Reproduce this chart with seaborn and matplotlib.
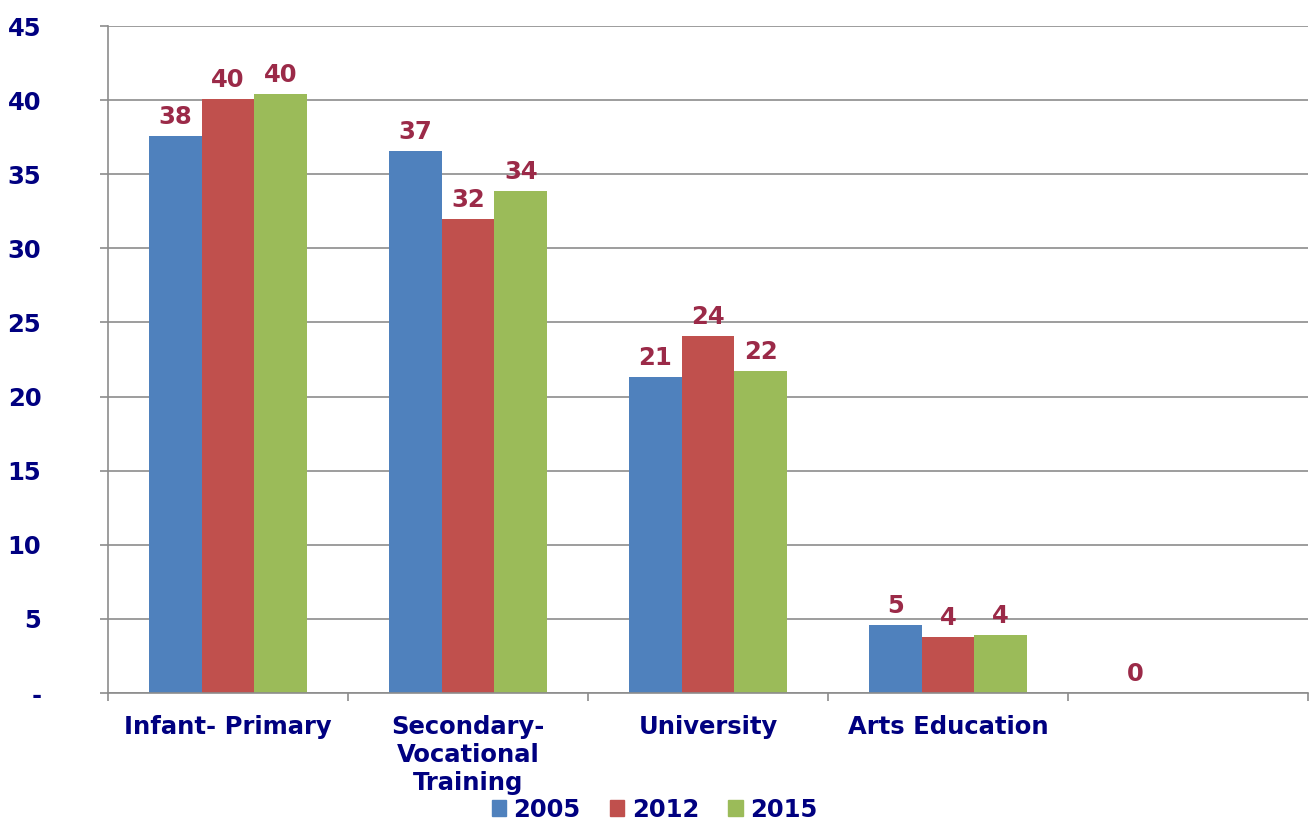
import pandas as pd
import matplotlib.pyplot as plt
import numpy as np
import seaborn as sns

categories = ['Infant- Primary', 'Secondary-\nVocational\nTraining', 'University', 'Arts Education', '']
years = ['2005', '2012', '2015']
v2005 = [37.6, 36.6, 21.3, 4.6, 0]
v2012 = [40.1, 32.0, 24.1, 3.8, np.nan]
v2015 = [40.4, 33.9, 21.7, 3.9, np.nan]
yticks = [0, 5, 10, 15, 20, 25, 30, 35, 40, 45]
ytick_labels = ['-', '5', '10', '15', '20', '25', '30', '35', '40', '45']

colors = ['#4F81BD', '#C0504D', '#9BBB59']
navy = '#000080'
label_color = '#9B2A48'
grid_color = '#8C8C8C'

df = pd.DataFrame({
    'category': categories * 3,
    'value': v2005 + v2012 + v2015,
    'year': [y for y in years for _ in categories],
})

sns.set_style('white')
plt.rcParams['font.family'] = ['DejaVu Sans']
plt.rcParams['font.weight'] = 'bold'

fig = plt.figure(figsize=(13.09, 8.23), dpi=100)
ax = fig.add_axes([108 / 1309, 1 - 693 / 823, 1200 / 1309, 667 / 823])

sns.barplot(data=df, x='category', y='value', hue='year', order=categories,
            hue_order=years, palette=colors, saturation=1, width=0.66,
            linewidth=0, ax=ax)

for c in ax.containers:
    ax.bar_label(c, fmt='%.0f', padding=5, color=label_color, fontsize=17.5, fontweight='bold')

ax.set_xlim(-0.5, 4.5)
ax.set_ylim(0, 45)
ax.set_yticks(yticks)
ax.set_yticklabels(ytick_labels)
ax.set_xlabel('')
ax.set_ylabel('')

ax.grid(axis='y', color=grid_color, linewidth=1.2)
ax.set_axisbelow(True)
for s in ['top', 'right']:
    ax.spines[s].set_visible(False)
for s in ['left', 'bottom']:
    ax.spines[s].set_color(grid_color)
    ax.spines[s].set_linewidth(1.2)

ax.tick_params(axis='y', left=True, length=6, width=1.2, color=grid_color, pad=42,
               labelsize=17.5, labelcolor=navy)
ax.tick_params(axis='x', which='major', bottom=True, length=0, pad=16, labelsize=17.5, labelcolor=navy)
ax.set_xticks(np.arange(-0.5, 5.0, 1.0), minor=True)
ax.tick_params(axis='x', which='minor', bottom=True, length=6, width=1.2, color=grid_color)
for t in ax.get_yticklabels() + ax.get_xticklabels():
    t.set_fontweight('bold')
for t in ax.get_xticklabels():
    t.set_verticalalignment('top')
    t.set_multialignment('center')

ax.get_legend().remove()
handles = [plt.Rectangle((0, 0), 1, 1, color=col) for col in colors]
fig.legend(handles, years, loc='lower center', bbox_to_anchor=(0.5, -0.025), ncol=3,
           frameon=False, handlelength=0.6, handleheight=0.6, handletextpad=0.3,
           columnspacing=1.2, prop={'size': 17.5, 'weight': 'bold'}, labelcolor=navy)

plt.savefig('out.png', dpi=100)
